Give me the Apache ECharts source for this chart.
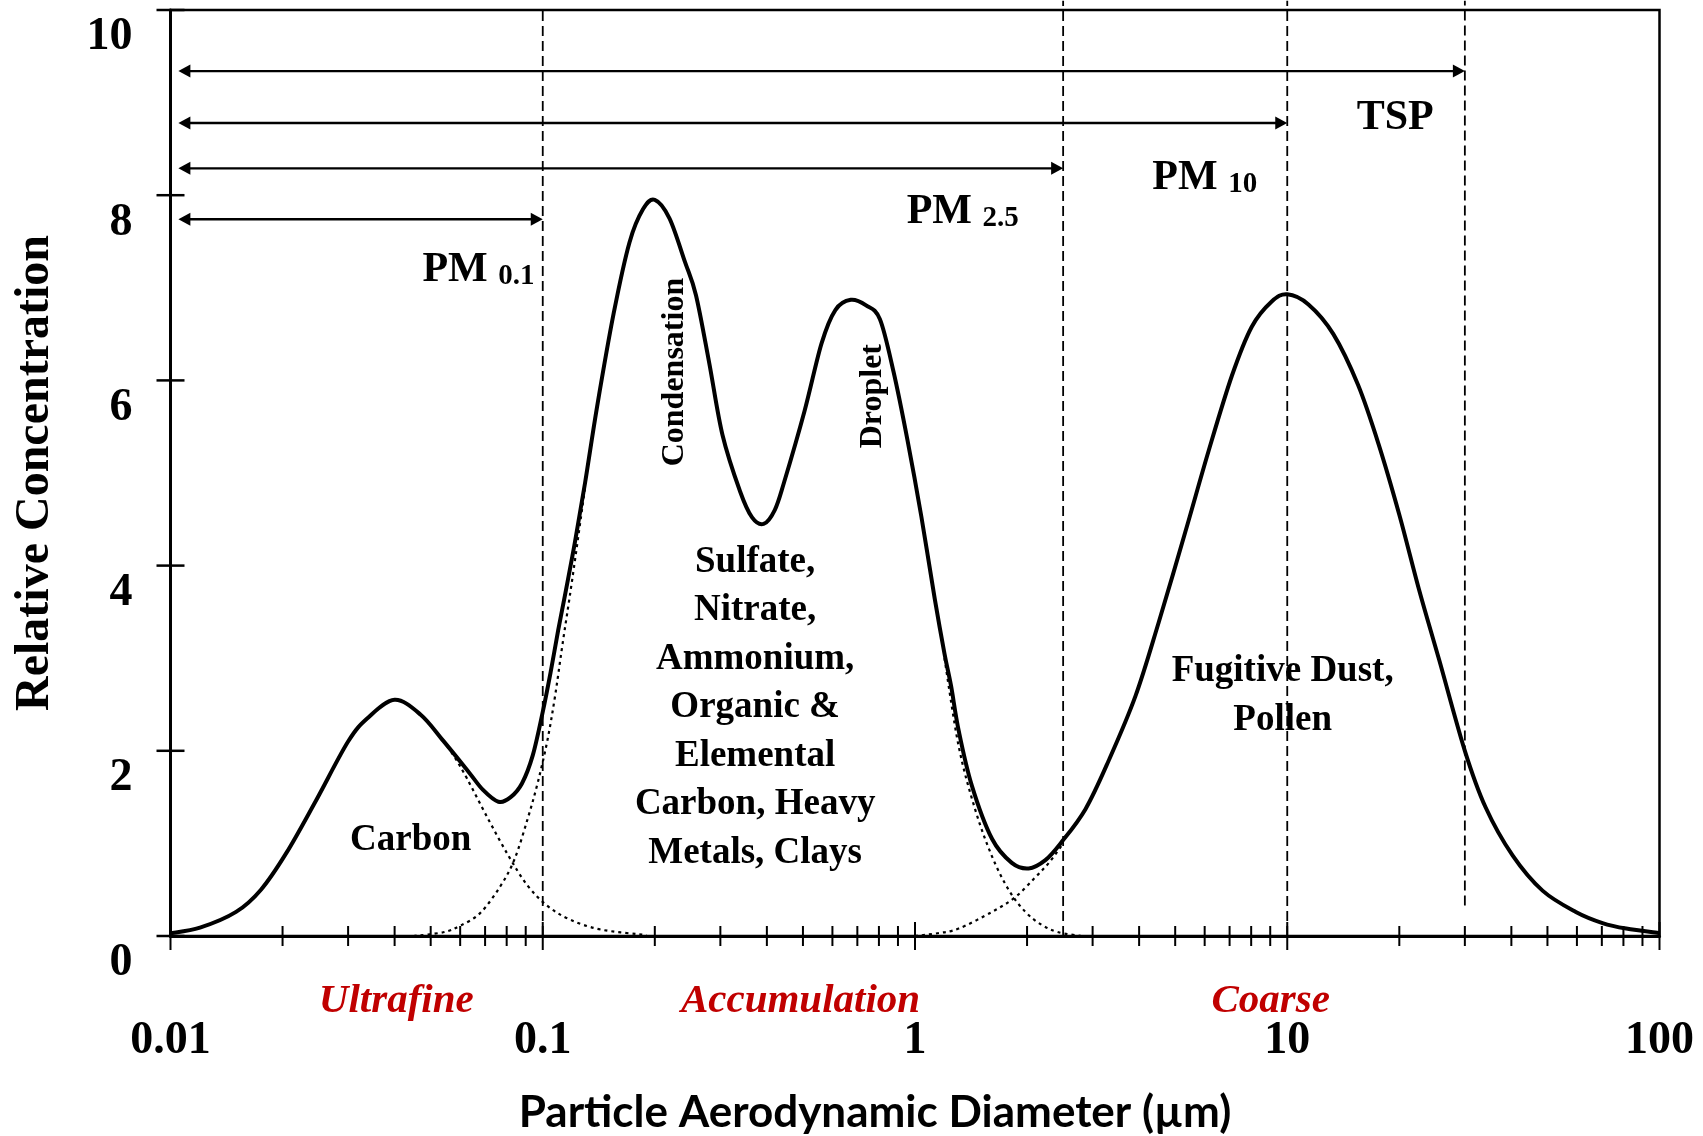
<!DOCTYPE html>
<html>
<head>
<meta charset="utf-8">
<title>Particle size distribution</title>
<script src="https://cdn.jsdelivr.net/npm/echarts@6/dist/echarts.min.js"></script>
<style>
  html, body { margin: 0; padding: 0; background: #fff; }
  #chart { width: 1703px; height: 1136px; }
</style>
</head>
<body>
<div id="chart"></div>
<script>
var SERIF = '"Liberation Serif", "Times New Roman", serif';

// overall distribution: diameter (µm) and relative concentration
var diameter = [0.01, 0.012, 0.015, 0.0175, 0.0205, 0.0245, 0.03, 0.034, 0.04, 0.047,
  0.054, 0.063, 0.069, 0.076, 0.082, 0.088, 0.094, 0.1, 0.105, 0.11,
  0.115, 0.122, 0.13, 0.14, 0.155, 0.171, 0.186, 0.2, 0.219, 0.241,
  0.258, 0.28, 0.304, 0.339, 0.365, 0.392, 0.42, 0.445, 0.505, 0.561,
  0.611, 0.672, 0.739, 0.805, 0.876, 0.954, 1.04, 1.13, 1.2, 1.25,
  1.31, 1.42, 1.61, 1.82, 2.02, 2.24, 2.46, 2.87, 3.31, 3.91,
  4.51, 5.32, 6.15, 7.1, 8.03, 9.07, 10, 11.4, 13.3, 15.5,
  17.6, 20, 22.6, 25.6, 30, 34.1, 40.3, 48.5, 59.6, 70.3, 81.4, 100];
var concentration = [0.03, 0.09, 0.26, 0.5, 0.9, 1.45, 2.1, 2.36, 2.55, 2.39,
  2.11, 1.78, 1.58, 1.45, 1.5, 1.65, 1.95, 2.42, 2.85, 3.3,
  3.7, 4.25, 4.9, 5.72, 6.72, 7.49, 7.85, 7.95, 7.75, 7.28,
  6.92, 6.19, 5.41, 4.8, 4.52, 4.45, 4.6, 4.9, 5.67, 6.4,
  6.76, 6.87, 6.81, 6.66, 6.09, 5.36, 4.53, 3.64, 3.05, 2.7,
  2.22, 1.63, 1.05, 0.79, 0.73, 0.82, 1.0, 1.37, 1.89, 2.59,
  3.38, 4.36, 5.24, 6.05, 6.58, 6.85, 6.93, 6.82, 6.5, 5.95,
  5.31, 4.55, 3.74, 2.98, 2.0, 1.39, 0.87, 0.49, 0.26, 0.14, 0.08, 0.03];

// dotted tails of the individual modes
var ultraTailD = [0.054, 0.058, 0.0626, 0.0712, 0.0808, 0.0908, 0.1026, 0.118, 0.143, 0.19];
var ultraTailV = [2.11, 1.93, 1.7, 1.27, 0.87, 0.55, 0.33, 0.18, 0.07, 0.01];
var accumRiseD = [0.045, 0.054, 0.06, 0.068, 0.077, 0.084, 0.091, 0.097, 0.103, 0.108, 0.113, 0.12, 0.13];
var accumRiseV = [0.0, 0.04, 0.11, 0.25, 0.54, 0.83, 1.26, 1.66, 2.12, 2.6, 3.15, 3.85, 4.85];
var accumTailD = [1.2, 1.31, 1.45, 1.61, 1.79, 1.98, 2.19, 2.43, 2.8];
var accumTailV = [3.0, 2.05, 1.37, 0.86, 0.49, 0.26, 0.12, 0.04, 0.0];
var coarseRiseD = [1.0, 1.15, 1.31, 1.61, 1.86, 2.1, 2.3, 2.5];
var coarseRiseV = [0.0, 0.03, 0.08, 0.26, 0.42, 0.63, 0.8, 1.0];

// size cuts and their range arrows
var cutSizes = [0.1, 2.5, 10, 30];
var cutArrowLevel = [7.74, 8.29, 8.78, 9.34];
var cutLineBottom = [0, 0, 0, 0.33];
var arrowStart = 0.0105;

// axes
var xMajorTicks = [0.01, 0.1, 1, 10, 100];
var xTickLabels = ['0.01', '0.1', '1', '10', '100'];
var xMinorSteps = [2, 3, 4, 5, 6, 7, 8, 9];
var yTicks = [0, 2, 4, 6, 8, 10];

var modeNames = ['Ultrafine', 'Accumulation', 'Coarse'];

var xMinorTicks = [];
xMajorTicks.slice(0, -1).forEach(function (dec) {
  xMinorSteps.forEach(function (s) { xMinorTicks.push(dec * s); });
});

function zip(xs, ys) {
  return xs.map(function (x, i) { return [x, ys[i]]; });
}

// annotation layout (anchors in data space)
var notes = [
  { at: [0.095, 7.21], text: '{a|PM} {b|0.1}', kind: 'pm', align: 'right' },
  { at: [1.9, 7.84], text: '{a|PM} {b|2.5}', kind: 'pm', align: 'right' },
  { at: [8.3, 8.21], text: '{a|PM} {b|10}', kind: 'pm', align: 'right' },
  { at: [19.5, 8.85], text: '{a|TSP}', kind: 'pm', align: 'center' },
  { at: [0.0442, 1.035], text: 'Carbon', kind: 'body' },
  { at: [0.372, 2.465], text: 'Sulfate,\nNitrate,\nAmmonium,\nOrganic &\nElemental\nCarbon, Heavy\nMetals, Clays', kind: 'body' },
  { at: [9.72, 2.595], text: 'Fugitive Dust,\nPollen', kind: 'body' },
  { at: [0.226, 6.09], text: 'Condensation', kind: 'vertical' },
  { at: [0.771, 5.83], text: 'Droplet', kind: 'vertical' },
  { at: [0.0404, -0.71], text: modeNames[0], kind: 'mode' },
  { at: [0.4926, -0.71], text: modeNames[1], kind: 'mode' },
  { at: [9.03, -0.71], text: modeNames[2], kind: 'mode' }
];

var chart = echarts.init(document.getElementById('chart'));

// Catmull-Rom through the pixel points, written as cubic beziers
function splinePath(pts) {
  var d = 'M' + pts[0][0] + ',' + pts[0][1];
  for (var i = 0; i < pts.length - 1; i++) {
    var p0 = pts[i - 1] || pts[i];
    var p1 = pts[i];
    var p2 = pts[i + 1];
    var p3 = pts[i + 2] || p2;
    var c1x = p1[0] + (p2[0] - p0[0]) / 6, c1y = p1[1] + (p2[1] - p0[1]) / 6;
    var c2x = p2[0] - (p3[0] - p1[0]) / 6, c2y = p2[1] - (p3[1] - p1[1]) / 6;
    d += 'C' + c1x + ',' + c1y + ',' + c2x + ',' + c2y + ',' + p2[0] + ',' + p2[1];
  }
  return d;
}

function curveSeries(xs, ys, style, z) {
  return {
    type: 'custom',
    silent: true,
    z: z,
    data: zip(xs, ys),
    encode: { x: 0, y: 1 },
    renderItem: function (params, api) {
      if (params.dataIndex !== 0) return null;
      var pts = xs.map(function (x, i) { return api.coord([x, ys[i]]); });
      return {
        type: 'path',
        shape: { pathData: splinePath(pts) },
        style: Object.assign({ fill: null, stroke: '#000' }, style)
      };
    }
  };
}

var dotted = { lineWidth: 2.2, lineDash: [3, 4] };

var option = {
  animation: false,
  backgroundColor: '#fff',
  grid: {
    left: 170.5, right: 43.5, top: 10, bottom: 200,
    show: true, borderColor: '#000', borderWidth: 2.5,
    containLabel: false, outerBoundsMode: 'none'
  },
  xAxis: {
    type: 'log',
    logBase: 10,
    min: 0.01,
    max: 100,
    axisLine: { show: true, lineStyle: { color: '#000', width: 3 } },
    axisTick: { show: false },
    splitLine: { show: false },
    axisLabel: {
      margin: 82,
      color: '#000',
      fontFamily: SERIF,
      fontWeight: 'bold',
      fontSize: 46,
      lineHeight: 46,
      showMinLabel: true,
      showMaxLabel: true,
      formatter: function (v) {
        var k = Math.round(Math.log10(v)) + 2;
        return xTickLabels[k] || '';
      }
    },
    name: 'Particle Aerodynamic Diameter (µm)',
    nameLocation: 'middle',
    nameGap: 155,
    nameTextStyle: {
      color: '#000', fontFamily: 'Lato', fontWeight: 'bold', fontSize: 44,
      padding: [0, 80, 0, 0]
    }
  },
  yAxis: {
    type: 'value',
    min: 0,
    max: 10,
    interval: 2,
    axisLine: { show: true, lineStyle: { color: '#000', width: 3 } },
    axisTick: { show: false },
    splitLine: { show: false },
    axisLabel: {
      margin: 38,
      color: '#000',
      fontFamily: SERIF,
      fontWeight: 'bold',
      fontSize: 46,
      lineHeight: 55,
      verticalAlign: 'top'
    },
    name: 'Relative Concentration',
    nameLocation: 'middle',
    nameGap: 111,
    nameTextStyle: { color: '#000', fontFamily: SERIF, fontWeight: 'bold', fontSize: 48 }
  },
  series: [
    curveSeries(ultraTailD, ultraTailV, dotted, 2),
    curveSeries(accumRiseD, accumRiseV, dotted, 2),
    curveSeries(accumTailD, accumTailV, dotted, 2),
    curveSeries(coarseRiseD, coarseRiseV, dotted, 2),
    curveSeries(diameter, concentration, { lineWidth: 4, lineJoin: 'round' }, 3),
    {
      // vertical cut-size lines
      type: 'custom',
      silent: true,
      z: 4,
      data: cutSizes.map(function (c, i) { return [c, cutLineBottom[i], i === 0 ? 10 : 10.1]; }),
      encode: { x: 0, y: [1, 2] },
      renderItem: function (params, api) {
        var p0 = api.coord([api.value(0), api.value(1)]);
        var p1 = api.coord([api.value(0), api.value(2)]);
        return {
          type: 'line',
          shape: { x1: p0[0], y1: p0[1], x2: p1[0], y2: p1[1] },
          style: { stroke: '#000', lineWidth: 1.8, lineDash: [10, 5] }
        };
      }
    },
    {
      // double-headed range arrows
      type: 'custom',
      silent: true,
      z: 4,
      data: cutSizes.map(function (c, i) { return [arrowStart, c, cutArrowLevel[i]]; }),
      encode: { x: [0, 1], y: 2 },
      renderItem: function (params, api) {
        var a = api.coord([api.value(0), api.value(2)]);
        var b = api.coord([api.value(1), api.value(2)]);
        var L = 12, w = 6.5;
        return {
          type: 'group',
          children: [
            { type: 'line', shape: { x1: a[0] + L - 1, y1: a[1], x2: b[0] - L + 1, y2: b[1] },
              style: { stroke: '#000', lineWidth: 2.4 } },
            { type: 'polygon', shape: { points: [[a[0], a[1]], [a[0] + L, a[1] - w], [a[0] + L, a[1] + w]] },
              style: { fill: '#000' } },
            { type: 'polygon', shape: { points: [[b[0], b[1]], [b[0] - L, b[1] - w], [b[0] - L, b[1] + w]] },
              style: { fill: '#000' } }
          ]
        };
      }
    },
    {
      // x ticks crossing the axis
      type: 'custom',
      silent: true,
      z: 5,
      data: xMajorTicks.map(function (t) { return [t, 0, 1]; })
        .concat(xMinorTicks.map(function (t) { return [t, 0, 0]; })),
      encode: { x: 0, y: 1 },
      renderItem: function (params, api) {
        var p = api.coord([api.value(0), api.value(1)]);
        var h = api.value(2) ? 14 : 10;
        return {
          type: 'line',
          shape: { x1: p[0], y1: p[1] - h, x2: p[0], y2: p[1] + h },
          style: { stroke: '#000', lineWidth: 2 }
        };
      }
    },
    {
      // y ticks crossing the axis
      type: 'custom',
      silent: true,
      z: 5,
      data: yTicks.map(function (t) { return [0.01, t]; }),
      encode: { x: 0, y: 1 },
      renderItem: function (params, api) {
        var p = api.coord([api.value(0), api.value(1)]);
        return {
          type: 'line',
          shape: { x1: p[0] - 14, y1: p[1], x2: p[0] + 14, y2: p[1] },
          style: { stroke: '#000', lineWidth: 2.5 }
        };
      }
    },
    {
      // text annotations
      type: 'custom',
      silent: true,
      z: 6,
      data: notes.map(function (n) { return n.at; }),
      encode: { x: 0, y: 1 },
      renderItem: function (params, api) {
        var n = notes[params.dataIndex];
        var p = api.coord([api.value(0), api.value(1)]);
        if (n.kind === 'pm') {
          return {
            type: 'text', x: p[0], y: p[1],
            style: {
              text: n.text, align: n.align, verticalAlign: 'middle',
              fontFamily: SERIF, fontWeight: 'bold', fontSize: 42, fill: '#000',
              rich: {
                a: { fontFamily: SERIF, fontWeight: 'bold', fontSize: 42, lineHeight: 46, verticalAlign: 'bottom', fill: '#000' },
                b: { fontFamily: SERIF, fontWeight: 'bold', fontSize: 29, lineHeight: 30, verticalAlign: 'bottom', fill: '#000' }
              }
            }
          };
        }
        if (n.kind === 'vertical') {
          return {
            type: 'text', x: p[0], y: p[1], rotation: Math.PI / 2,
            style: {
              text: n.text, align: 'center', verticalAlign: 'middle',
              fontFamily: SERIF, fontWeight: 'bold', fontSize: 32, fill: '#000'
            }
          };
        }
        if (n.kind === 'mode') {
          return {
            type: 'text', x: p[0], y: p[1],
            style: {
              text: n.text, align: 'center', verticalAlign: 'middle',
              fontFamily: SERIF, fontWeight: 'bold', fontStyle: 'italic', fontSize: 41, fill: '#c00000'
            }
          };
        }
        return {
          type: 'text', x: p[0], y: p[1],
          style: {
            text: n.text, align: 'center', verticalAlign: 'middle',
            fontFamily: SERIF, fontWeight: 'bold', fontSize: 37, lineHeight: 48.5, fill: '#000'
          }
        };
      }
    }
  ]
};

chart.setOption(option);
</script>
</body>
</html>
